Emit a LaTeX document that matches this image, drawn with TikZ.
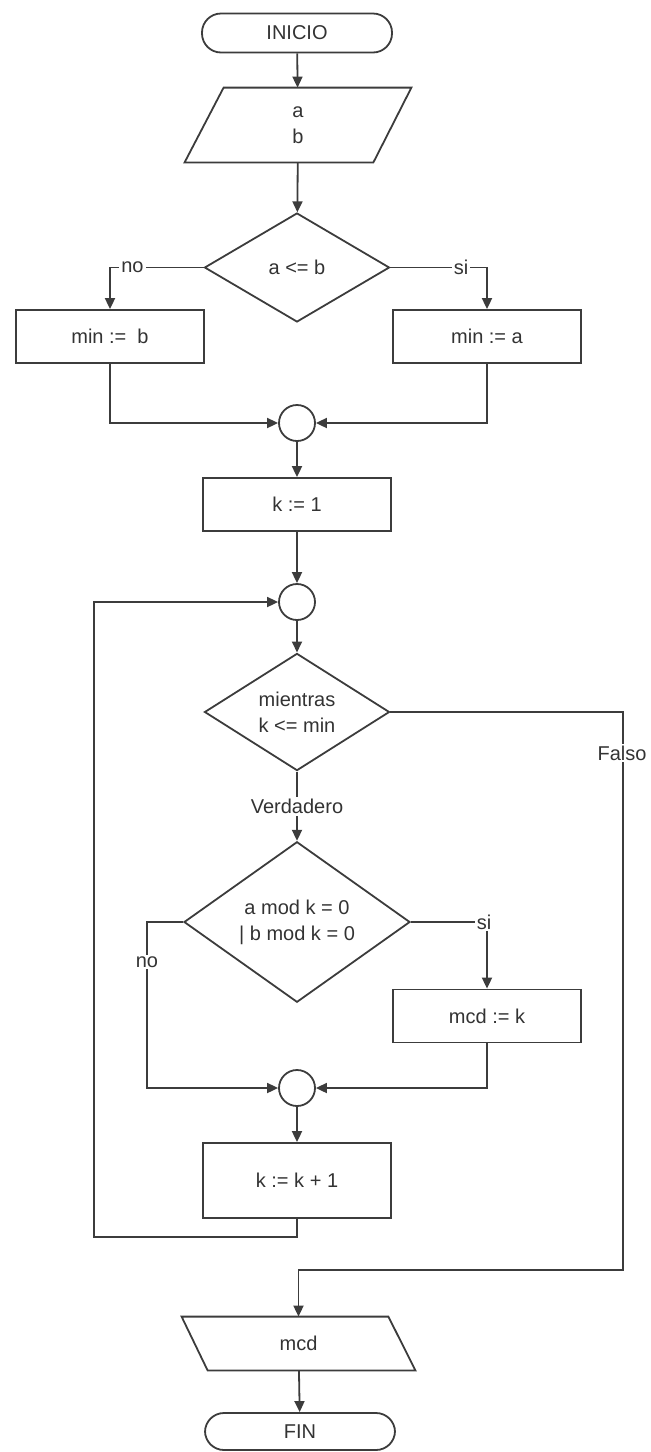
\documentclass[tikz,border=0pt]{standalone}
\usepackage{fontspec}
\setmainfont{Liberation Sans}
\usetikzlibrary{arrows.meta,shapes.geometric}
\definecolor{ln}{HTML}{3C3C3C}
\definecolor{tx}{HTML}{333333}
\begin{document}
\begin{tikzpicture}[x=0.5pt,y=-0.5pt,
  every node/.style={font=\fontsize{10}{13}\selectfont, text=tx},
  base/.style={draw=ln, line width=0.9pt},
  term/.style={base, rectangle, rounded corners=9.5pt, minimum width=95pt, minimum height=19.5pt, inner sep=0pt},
  proc/.style={base, rectangle, minimum width=94pt, minimum height=26.5pt, inner sep=0pt},
  decis/.style={base, diamond, inner sep=0pt, align=center},
  iobox/.style={rectangle, inner sep=0pt, align=center},
  junct/.style={base, circle, minimum size=18pt, inner sep=0pt},
  lbl/.style={fill=white, inner sep=1pt},
  flow/.style={draw=ln, line width=0.9pt, -{Triangle[width=5pt,length=5.5pt]}},
  wire/.style={draw=ln, line width=0.9pt}
]
\useasboundingbox (0,0) rectangle (650,1452);

% nodes
\node[term] (ini) at (297,33) {INICIO};
\node[iobox, minimum width=113pt, minimum height=37pt] (in) at (298,125) {a\\b};
\draw[wire] ([xshift=19.5pt]in.north west) -- (in.north east) -- ([xshift=-19pt]in.south east) -- (in.south west) -- cycle;
\node[decis, minimum width=92.5pt, minimum height=54.5pt] (d1) at (297,267.5) {a <= b};
\node[proc] (minb) at (110,336.5) {min :=\ \ b};
\node[proc] (mina) at (487,336.5) {min := a};
\node[junct] (c1) at (297,423) {};
\node[proc] (k1) at (297,504.5) {k := 1};
\node[junct] (c2) at (297,602) {};
\node[decis, minimum width=92.5pt, minimum height=54pt] (dm) at (297,712) {mientras\\k <= min};
\node[decis, minimum width=113pt, minimum height=64pt] (d2) at (297,922) {a mod k = 0\\| b mod k = 0};
\node[proc] (mcdk) at (487,1016) {mcd := k};
\node[junct] (c3) at (297,1088) {};
\node[proc, minimum height=37.5pt] (kk1) at (297,1180.5) {k := k + 1};
\node[iobox, minimum width=116.5pt, minimum height=26.5pt] (out) at (298.5,1343.5) {mcd};
\draw[wire] (out.north west) -- ([xshift=-13.5pt]out.north east) -- (out.south east) -- ([xshift=13pt]out.south west) -- cycle;
\node[term, minimum height=18.5pt] (fin) at (300,1431.5) {FIN};

\coordinate (fc) at (623,1270);
\coordinate (nc) at (147,1088);
\coordinate (lp) at (94,1237);

% connectors
\draw[flow] (ini) -- (in);
\draw[flow] (in) -- (d1);
\draw[flow] (d1.west) -| node[lbl,pos=0.38]{no} (minb.north);
\draw[flow] (d1.east) -| node[lbl,pos=0.366]{si} (mina.north);
\draw[flow] (minb.south) |- (c1.west);
\draw[flow] (mina.south) |- (c1.east);
\draw[flow] (c1) -- (k1);
\draw[flow] (k1) -- (c2);
\draw[flow] (c2) -- (dm);
\draw[flow] (dm.south) -- node[lbl,midway]{Verdadero} (d2.north);
\draw[flow] (dm.east) -| (fc) -| (out.north);
\draw[flow] (d2.west) -| (nc) -- (c3.west);
\draw[flow] (d2.east) -| (mcdk.north);
\draw[flow] (mcdk.south) |- (c3.east);
\draw[flow] (c3) -- (kk1);
\draw[flow] (kk1.south) |- (lp) |- (c2.west);
\draw[flow] (out) -- (fin);

% labels on lines
\node[lbl] (flab) at (622,753) {Falso};
\node[lbl] (nolab) at (147,962) {no};
\node[lbl] (silab) at (484,922) {si};
\end{tikzpicture}
\end{document}
